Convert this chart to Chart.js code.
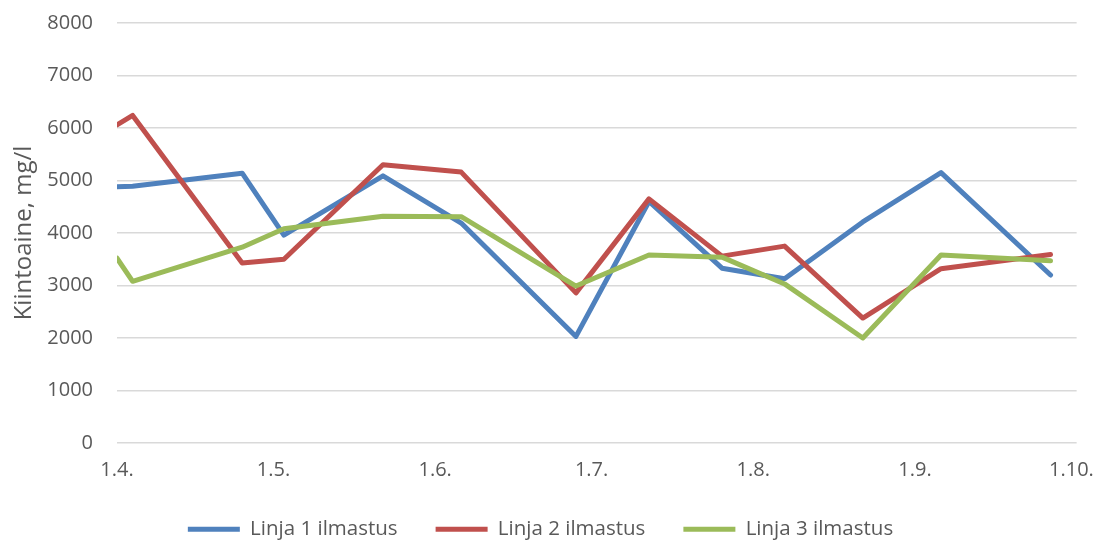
<!DOCTYPE html>
<html>
<head>
<meta charset="utf-8">
<script src="https://cdn.jsdelivr.net/npm/chart.js@4.4.1/dist/chart.umd.min.js"></script>
<style>
  html, body { margin: 0; padding: 0; background: #ffffff; }
  #wrap { width: 1109px; height: 541px; position: relative; }
</style>
</head>
<body>
<div id="wrap"><canvas id="chart" width="1109" height="541"></canvas></div>
<script>
// Sampling dates (year is only used for day arithmetic)
const sampleDates = ['2019-04-01', '2019-04-04', '2019-04-25', '2019-05-03', '2019-05-22', '2019-06-06',
                     '2019-06-28', '2019-07-12', '2019-07-26', '2019-08-07', '2019-08-22', '2019-09-06', '2019-09-27'];

// Suspended solids, mg/l
const linja1 = [4880, 4890, 5140, 3960, 5090, 4190, 2030, 4600, 3330, 3130, 4210, 5150, 3200];
const linja2 = [6060, 6240, 3430, 3500, 5300, 5160, 2860, 4650, 3560, 3750, 2380, 3320, 3590];
const linja3 = [3520, 3080, 3730, 4080, 4320, 4310, 2990, 3580, 3540, 3030, 2000, 3580, 3470];

const seriesNames = ['Linja 1 ilmastus', 'Linja 2 ilmastus', 'Linja 3 ilmastus'];

// Month-start ticks on the time axis
const tickDates = ['2019-04-01', '2019-05-01', '2019-06-01', '2019-07-01', '2019-08-01', '2019-09-01', '2019-10-01'];
const tickLabels = ['1.4.', '1.5.', '1.6.', '1.7.', '1.8.', '1.9.', '1.10.'];
const axisEndDate = '2019-10-02';

const yTitle = 'Kiintoaine, mg/l';

const DAY = 86400000;
const origin = Date.parse(sampleDates[0] + 'T00:00:00Z');
const toDay = s => Math.round((Date.parse(s + 'T00:00:00Z') - origin) / DAY);

const xs = sampleDates.map(toDay);
const tickPos = tickDates.map(toDay);
const toPoints = vals => vals.map((v, i) => ({ x: xs[i], y: v }));

const textColor = '#595959';
const fontFamily = '"Open Sans", "Noto Sans", sans-serif';

const colors = ['#4f81bd', '#c0504d', '#9bbb59'];
const values = [linja1, linja2, linja3];

// Later series are painted over earlier ones
const datasets = values.map((vals, i) => ({
  label: seriesNames[i],
  data: toPoints(vals),
  borderColor: colors[i],
  backgroundColor: colors[i],
  borderWidth: 5,
  pointRadius: 0,
  tension: 0,
  borderJoinStyle: 'round',
  borderCapStyle: 'round',
  order: 2 - i
}));

new Chart(document.getElementById('chart'), {
  type: 'line',
  data: { datasets },
  options: {
    responsive: false,
    animation: false,
    layout: { padding: { left: 4, right: 32, top: 23, bottom: 0 } },
    scales: {
      x: {
        type: 'linear',
        min: 0,
        max: toDay(axisEndDate),
        afterBuildTicks: axis => { axis.ticks = tickPos.map(v => ({ value: v })); },
        afterFit: axis => { axis.height = 38; },
        ticks: {
          autoSkip: false,
          maxRotation: 0,
          padding: 15,
          color: textColor,
          font: { family: fontFamily, size: 20 },
          callback: v => tickLabels[tickPos.indexOf(v)]
        },
        grid: { display: false, drawTicks: false },
        border: { display: false }
      },
      y: {
        min: 0,
        max: 8000,
        afterFit: axis => {
          axis.width = 113;
          // keep the label gap from pushing the plot area down
          axis.paddingTop = 0;
          axis.paddingBottom = 0;
        },
        ticks: {
          stepSize: 1000,
          padding: 24,
          color: textColor,
          font: { family: fontFamily, size: 20 },
          callback: v => String(v)
        },
        grid: { color: '#d9d9d9', lineWidth: 1.5, drawTicks: false },
        border: { display: false },
        title: {
          display: true,
          text: yTitle,
          color: textColor,
          font: { family: fontFamily, size: 24 },
          padding: { top: 6, bottom: 0 }
        }
      }
    },
    plugins: {
      tooltip: { enabled: false },
      legend: {
        position: 'bottom',
        maxHeight: 60,
        labels: {
          color: textColor,
          font: { family: fontFamily, size: 20.5 },
          boxWidth: 52,
          boxHeight: 5,
          padding: 38,
          sort: (a, b) => a.datasetIndex - b.datasetIndex,
          generateLabels: chart => Chart.defaults.plugins.legend.labels.generateLabels(chart)
            .map(item => Object.assign(item, { lineWidth: 0 }))
        }
      }
    }
  }
});
</script>
</body>
</html>
